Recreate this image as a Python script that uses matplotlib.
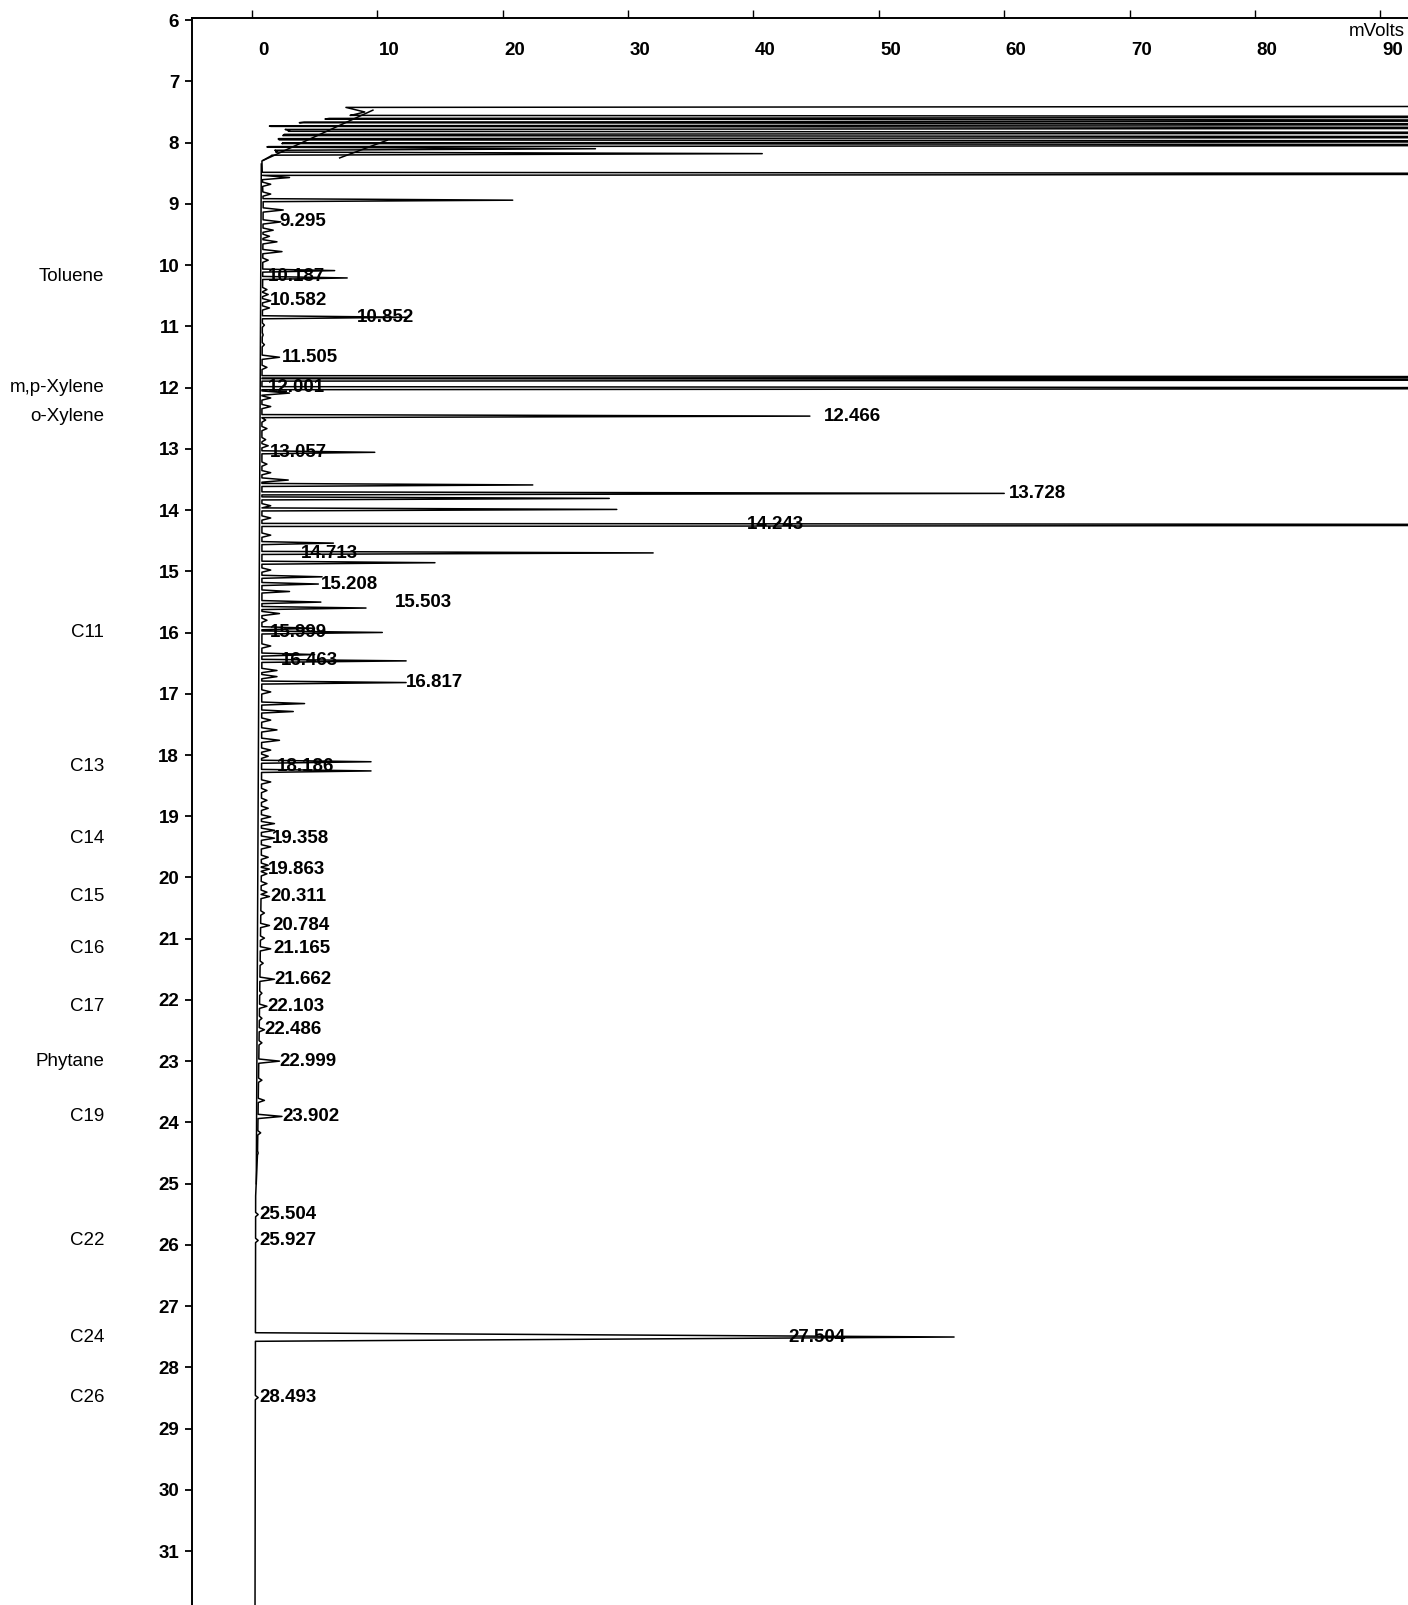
import numpy as np
import matplotlib
matplotlib.use('Agg')
import matplotlib.pyplot as plt
import matplotlib.transforms as mtransforms

plt.rcParams['font.family'] = ['Liberation Sans', 'DejaVu Sans']

# retention time (min) and height (mV) of the larger peaks, 150 = off scale
big_rt = [7.40, 7.58, 7.64, 7.70, 7.76, 7.84, 7.91, 7.98, 8.04, 8.10, 8.18, 8.51,
          8.94, 10.09, 10.21, 10.852, 11.83, 11.87, 12.01, 12.466, 13.057, 13.59,
          13.728, 13.81, 13.99, 14.243, 14.54, 14.70, 14.86, 15.09, 15.208, 15.33,
          15.503, 15.60, 15.93, 15.999, 16.36, 16.463, 16.817, 17.16, 17.29,
          18.11, 18.26, 27.504]
big_mv = [150, 150, 150, 150, 150, 150, 150, 150, 150, 27.4, 40.7, 150,
          20.8, 6.6, 7.6, 12.4, 150, 150, 150, 44.5, 9.8, 22.4,
          60.0, 28.5, 29.1, 150, 6.5, 32.0, 14.6, 5.6, 5.3, 3.0,
          5.5, 9.1, 5.0, 10.4, 5.0, 12.3, 12.3, 4.2, 3.3,
          9.5, 9.5, 56.0]
big_hw = [0.025] * 43 + [0.07]

# small wiggles on the baseline
small_rt = [8.57, 8.68, 8.84, 9.10, 9.295, 9.43, 9.53, 9.62, 9.78, 9.92, 10.40, 10.48,
            10.582, 10.70, 10.98, 11.14, 11.30, 11.505, 11.67, 12.09, 12.17, 12.31,
            12.53, 12.67, 12.85, 12.95, 13.25, 13.39, 13.51, 13.93, 14.13, 14.41,
            14.98, 15.69, 15.80, 16.22, 16.62, 16.72, 16.97, 17.43, 17.59, 17.76,
            17.92, 18.02, 18.44, 18.58, 18.74, 18.87, 19.01, 19.12, 19.23, 19.358,
            19.50, 19.67, 19.80, 19.863, 19.94, 20.10, 20.24, 20.311, 20.58, 20.784,
            20.99, 21.165, 21.40, 21.662, 21.89, 22.103, 22.30, 22.486, 22.70,
            22.999, 23.31, 23.64, 23.902, 24.17, 24.50, 25.504, 25.927, 28.493]
small_mv = [3.0, 1.5, 1.5, 2.5, 2.3, 1.7, 1.4, 2.0, 2.4, 1.3, 1.2, 1.3,
            1.5, 1.4, 1.0, 0.9, 1.0, 2.2, 1.2, 3.0, 1.5, 1.5,
            1.1, 1.2, 1.1, 1.3, 1.2, 1.5, 2.9, 1.5, 1.5, 1.5,
            1.5, 2.2, 1.2, 1.5, 2.0, 2.0, 1.5, 1.5, 2.0, 2.2,
            1.5, 1.3, 1.5, 1.2, 1.2, 1.3, 1.5, 1.8, 1.8, 1.8,
            1.5, 1.3, 1.3, 1.4, 1.2, 1.2, 1.2, 1.4, 1.0, 1.4,
            1.0, 1.5, 0.9, 1.8, 0.8, 1.2, 0.8, 1.0, 0.8,
            2.2, 0.8, 1.0, 2.4, 0.7, 0.5, 0.5, 0.5, 0.5]

# valley level of the trace (solvent peak off scale before 7.4 min)
base_rt = [5.90, 7.37, 7.42, 7.50, 7.55, 7.61, 7.67, 7.73, 7.80, 7.88, 7.94, 8.01, 8.07,
           8.14, 8.22, 8.30, 9.0, 12.0, 16.0, 20.0, 24.5, 25.2, 31.9]
base_mv = [150, 150, 7.4, 9.0, 8.0, 6.0, 4.0, 1.4, 3.0, 2.5, 2.1, 2.5, 1.2,
           2.0, 1.5, 0.8, 0.9, 0.8, 0.8, 0.75, 0.45, 0.3, 0.25]

# straight baselines drawn by the integrator
drop_t = [(7.47, 8.29), (7.96, 8.25), (8.35, 25.0)]
drop_mv = [(9.65, 0.9), (10.8, 7.0), (0.75, 0.35)]

label_txt = ['9.295', '10.187', '10.582', '10.852', '11.505', '12.001', '12.466',
             '13.057', '13.728', '14.243', '14.713', '15.208', '15.503', '15.999',
             '16.463', '16.817', '18.186', '19.358', '19.863', '20.311', '20.784',
             '21.165', '21.662', '22.103', '22.486', '22.999', '23.902', '25.504',
             '25.927', '27.504', '28.493']
label_rt = [float(s) for s in label_txt]
label_mv = [2.2, 1.3, 1.4, 8.35, 2.4, 1.3, 45.6, 1.4, 60.4, 39.5, 3.9, 5.5, 11.4, 1.4,
            2.3, 12.3, 2.0, 1.6, 1.3, 1.5, 1.6, 1.7, 1.8, 1.2, 1.0, 2.2, 2.4, 0.6,
            0.6, 42.8, 0.6]

compound_names = ['Toluene', 'm,p-Xylene', 'o-Xylene', 'C11', 'C13', 'C14', 'C15',
                  'C16', 'C17', 'Phytane', 'C19', 'C22', 'C24', 'C26']
compound_rt = [10.187, 12.001, 12.466, 15.999, 18.186, 19.358, 20.311, 21.165,
               22.103, 22.999, 23.902, 25.927, 27.504, 28.493]


def build_trace():
    t = []
    v = []
    windows = []
    for rts, mvs, hws in [(big_rt, big_mv, big_hw),
                          (small_rt, small_mv, [0.035] * len(small_rt))]:
        for r, h, w in zip(rts, mvs, hws):
            t += [r - w, r, r + w]
            v += [np.interp(r - w, base_rt, base_mv), h,
                  np.interp(r + w, base_rt, base_mv)]
            windows.append((r - w, r + w))
    for bt, bv in zip(base_rt, base_mv):
        if not any(a < bt < b for a, b in windows):
            t.append(bt)
            v.append(bv)
    order = np.argsort(t)
    return np.array(t)[order], np.array(v)[order]


fig = plt.figure(figsize=(14.08, 16.05), dpi=100)
ax = fig.add_axes([191.7 / 1408, 0.0, 1 - 191.7 / 1408, 1 - 18.3 / 1605])

tt, vv = build_trace()
ax.plot(vv, tt, color='black', lw=1.1)
for (t0, t1), (v0, v1) in zip(drop_t, drop_mv):
    ax.plot([v0, v1], [t0, t1], color='black', lw=1.1)

for txt, rt, x in zip(label_txt, label_rt, label_mv):
    ax.text(x, rt, txt, ha='left', va='center', fontsize=13.5, fontweight='bold',
            color='black')

ytr = ax.get_yaxis_transform()
for name, rt in zip(compound_names, compound_rt):
    ax.text(-0.072, rt, name, transform=ytr, ha='right', va='center', fontsize=13.5)

ax.set_xlim(-4.8, 92.2)
ax.set_ylim(31.88, 5.97)

ax.set_yticks(range(6, 32))
ax.tick_params(axis='y', direction='out', length=5, width=1.3, pad=4, labelsize=13.5)

ax.xaxis.tick_top()
ax.set_xticks(range(0, 91, 10))
ax.tick_params(axis='x', direction='out', length=6, width=1.0, pad=-35, labelsize=13.5)
shift = mtransforms.ScaledTranslation(0.12, 0, fig.dpi_scale_trans)
for lab in ax.get_xticklabels():
    lab.set_transform(lab.get_transform() + shift)
for lab in ax.get_xticklabels() + ax.get_yticklabels():
    lab.set_fontweight('bold')

ax.text(89.7, 0.9916, 'mVolts', transform=mtransforms.blended_transform_factory(ax.transData, ax.transAxes),
        ha='center', va='center', fontsize=13.5)

ax.spines['right'].set_visible(False)
ax.spines['bottom'].set_visible(False)
ax.spines['left'].set_linewidth(1.4)
ax.spines['top'].set_linewidth(1.4)

fig.savefig('out.png', dpi=100)
